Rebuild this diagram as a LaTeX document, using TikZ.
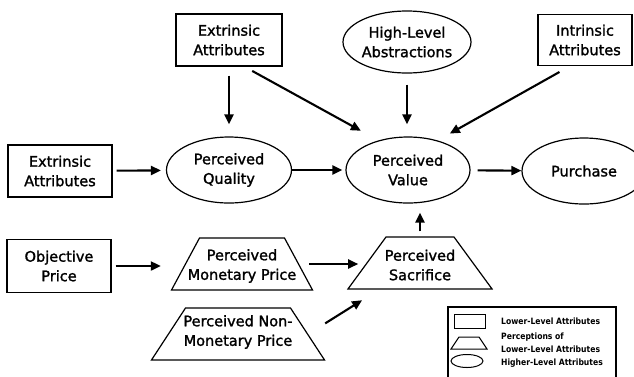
\documentclass[tikz,border=0pt]{standalone}
\usepackage{fontspec}
\setmainfont{DejaVu Sans}[FakeBold=1.5]
\newfontfamily\legendfont{DejaVu Sans}[FakeStretch=0.88]
\usetikzlibrary{arrows.meta,shapes.geometric}
\tikzset{
  attrbox/.style={draw,line width=1.2pt,align=center,minimum width=104pt,minimum height=52pt,
    inner sep=0pt,font=\fontsize{14.5}{19.5}\selectfont},
  levelellipse/.style={ellipse,draw,line width=1.2pt,align=center,minimum width=125pt,
    minimum height=66pt,inner sep=0pt,font=\fontsize{14.5}{19.5}\selectfont},
  perceptbox/.style={trapezium,draw,line width=1.2pt,inner sep=0pt,text height=52pt,text depth=0pt},
  perceptlabel/.style={align=center,inner sep=0pt,font=\fontsize{14.5}{19.5}\selectfont},
  flowarrow/.style={-{Triangle[length=10pt,width=9pt]},line width=2.1pt},
  legendtext/.style={anchor=west,align=left,inner sep=0pt,
    font=\legendfont\bfseries\fontsize{8.7}{13}\selectfont}
}
\begin{document}
\begin{tikzpicture}[x=1pt,y=1pt]
  \useasboundingbox (0,-376) rectangle (634,0);
  % top row
  \node[attrbox,minimum width=106pt] (extop) at (229,-40) {Extrinsic\\Attributes};
  \node[levelellipse,minimum width=126pt,minimum height=62pt] (hla) at (407,-42) {High-Level\\Abstractions};
  \node[attrbox,minimum width=94pt,minimum height=51pt] (ia) at (585,-40) {Intrinsic\\Attributes};
  % middle row
  \node[attrbox] (exl) at (60,-171) {Extrinsic\\Attributes};
  \node[levelellipse] (pq) at (229,-170) {Perceived\\Quality};
  \node[levelellipse,minimum width=124pt] (pv) at (408,-170) {Perceived\\Value};
  \node[levelellipse,minimum width=124pt] (buy) at (584,-171) {Purchase};
  % price row
  \node[attrbox,minimum height=53pt] (op) at (59,-266) {Objective\\Price};
  \node[perceptbox,text width=85pt,trapezium angle=61.7] (pmp) at (242,-264) {};
  \node[perceptlabel] at ([yshift=-2pt]pmp.center) {Perceived\\Monetary Price};
  \node[perceptbox,text width=68pt,trapezium angle=53.8] (ps) at (420,-263) {};
  \node[perceptlabel] at ([yshift=-2pt]ps.center) {Perceived\\Sacrifice};
  \node[perceptbox,text width=105pt,trapezium angle=56.8] (pnmp) at (238,-334) {};
  \node[perceptlabel] at ([yshift=2pt]pnmp.center) {Perceived Non-\\Monetary Price};
  % links
  \draw[flowarrow,shorten <=9pt,shorten >=12pt] (extop.south) -- (extop.south |- pq.north);
  \draw[flowarrow,shorten <=9pt,shorten >=20pt] (extop.-60) -- (pv.135);
  \draw[flowarrow,shorten <=11pt,shorten >=12pt] (hla.south) -- (hla.south |- pv.north);
  \draw[flowarrow,shorten <=12pt,shorten >=14pt] (ia.-120) -- (pv.45);
  \draw[flowarrow,shorten <=4pt,shorten >=5pt] (exl) -- (pq);
  \draw[flowarrow,shorten >=3pt] (pq) -- (pv);
  \draw[flowarrow,shorten <=7pt] (pv) -- (buy);
  \draw[flowarrow,shorten <=4pt,shorten >=24pt] (op.east) -- (op.east -| pmp.west);
  \draw[flowarrow,shorten <=10pt,shorten >=8pt] (pmp.east) -- (pmp.east -| ps.west);
  \draw[flowarrow,shorten <=20pt,shorten >=20pt] (pnmp.east) -- (ps.213);
  \draw[flowarrow,shorten <=5pt,shorten >=9pt] (ps.north) -- (ps.north |- pv.south);
  % legend
  \draw[line width=1.1pt] (448,-307) rectangle (616,-380);
  \node[draw,line width=1pt,minimum width=31pt,minimum height=14pt,inner sep=0pt] (keybox) at (469.5,-321) {};
  \node[trapezium,draw,line width=1pt,inner sep=0pt,text width=20pt,text height=12pt,
    text depth=0pt,trapezium angle=56.3] (keytrap) at (469,-343) {};
  \node[ellipse,draw,line width=1pt,minimum width=32pt,minimum height=13pt,inner sep=0pt] (keyell) at (467,-361) {};
  \node[legendtext] (keyboxtext) at (501,-321) {Lower-Level Attributes};
  \node[legendtext] (keytraptext) at (501,-342.5) {Perceptions of\\Lower-Level Attributes};
  \node[legendtext] (keyelltext) at (501,-363) {Higher-Level Attributes};
\end{tikzpicture}
\end{document}
